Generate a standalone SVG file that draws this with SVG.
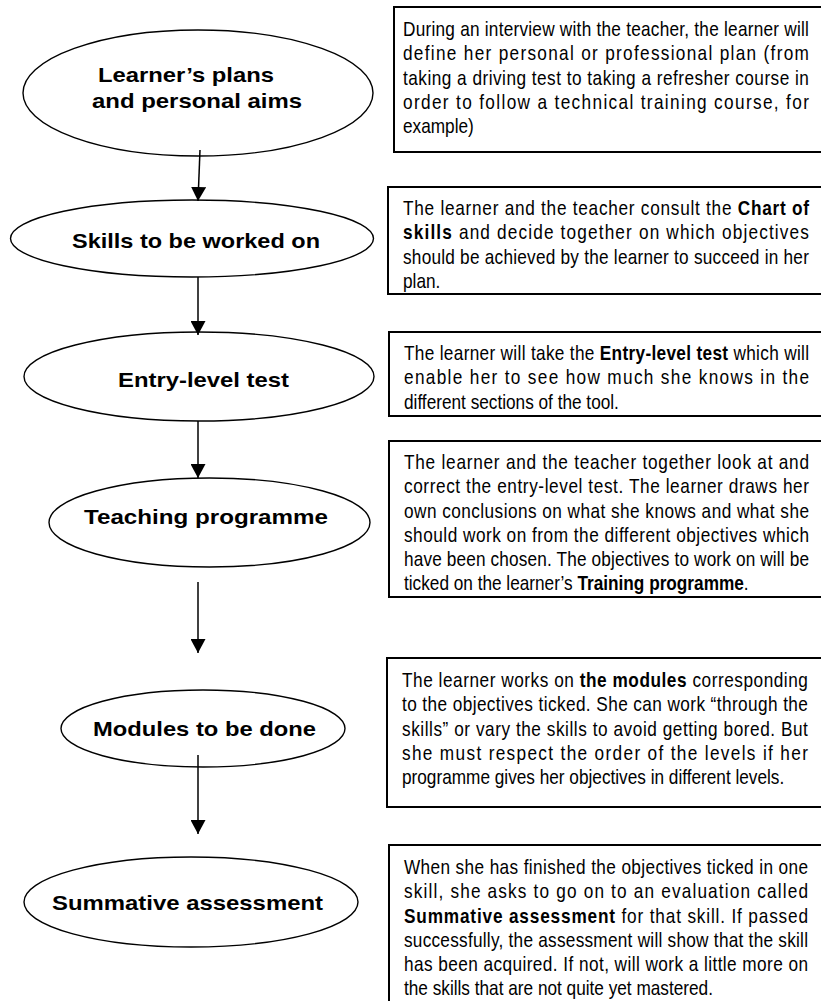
<svg xmlns="http://www.w3.org/2000/svg" width="821" height="1001" viewBox="0 0 821 1001">
<style>
.bg{fill:#fff}
.ell{fill:#fff;stroke:#000;stroke-width:1.4}
.box{fill:#fff;stroke:#000;stroke-width:2}
.lbl{font-family:"Liberation Sans",Arial,sans-serif;font-weight:bold;font-size:20.5px;fill:#000}
.txt{font-family:"Liberation Sans",Arial,sans-serif;font-size:21px;fill:#000}
.b{font-weight:bold}
.conn line{stroke:#000;stroke-width:1.5;marker-end:url(#ah)}
</style>
<defs>
<marker id="ah" markerUnits="userSpaceOnUse" markerWidth="15" markerHeight="15" refX="14" refY="7.5" orient="auto">
<path d="M0,0 L14,7.5 L0,15 z" fill="#000"/>
</marker>
</defs>
<rect class="bg" x="0" y="0" width="821" height="1001"/>

<g id="node-plans">
<ellipse class="ell" cx="198" cy="93" rx="175" ry="63"/>
<text class="lbl" x="98" y="82" textLength="176" lengthAdjust="spacingAndGlyphs">Learner’s plans</text>
<text class="lbl" x="92" y="108" textLength="210" lengthAdjust="spacingAndGlyphs">and personal aims</text>
</g>
<g id="node-skills">
<ellipse class="ell" cx="192" cy="238.5" rx="181.5" ry="38.5"/>
<text class="lbl" x="72" y="248" textLength="248" lengthAdjust="spacingAndGlyphs">Skills to be worked on</text>
</g>
<g id="node-entry">
<ellipse class="ell" cx="199" cy="376.5" rx="175" ry="44.5"/>
<text class="lbl" x="118" y="387" textLength="171" lengthAdjust="spacingAndGlyphs">Entry-level test</text>
</g>
<g id="node-teaching">
<ellipse class="ell" cx="209.5" cy="522.5" rx="160.5" ry="44.5"/>
<text class="lbl" x="84" y="524" textLength="244" lengthAdjust="spacingAndGlyphs">Teaching programme</text>
</g>
<g id="node-modules">
<ellipse class="ell" cx="203" cy="728.5" rx="142" ry="38.5"/>
<text class="lbl" x="93" y="736" textLength="223" lengthAdjust="spacingAndGlyphs">Modules to be done</text>
</g>
<g id="node-summative">
<ellipse class="ell" cx="191" cy="902" rx="167" ry="45"/>
<text class="lbl" x="52" y="910" textLength="271" lengthAdjust="spacingAndGlyphs">Summative assessment</text>
</g>

<g id="note-plans">
<rect class="box" x="394" y="7" width="440" height="145"/>
<g transform="translate(403,0) scale(0.82,1)">
<text class="txt" x="0" y="36" textLength="495" lengthAdjust="spacing">During an interview with the teacher, the learner will</text>
<text class="txt" x="0" y="60.3" textLength="495" lengthAdjust="spacing">define her personal or professional plan (from</text>
<text class="txt" x="0" y="84.6" textLength="495" lengthAdjust="spacing">taking a driving test to taking a refresher course in</text>
<text class="txt" x="0" y="108.9" textLength="495" lengthAdjust="spacing">order to follow a technical training course, for</text>
<text class="txt" x="0" y="133.2">example)</text>
</g>
</g>
<g id="note-skills">
<rect class="box" x="388" y="187" width="446" height="107"/>
<g transform="translate(403,0) scale(0.82,1)">
<text class="txt" x="0" y="215" textLength="495" lengthAdjust="spacing">The learner and the teacher consult the <tspan class="b">Chart of</tspan></text>
<text class="txt" x="0" y="239.3" textLength="495" lengthAdjust="spacing"><tspan class="b">skills</tspan> and decide together on which objectives</text>
<text class="txt" x="0" y="263.6" textLength="495" lengthAdjust="spacing">should be achieved by the learner to succeed in her</text>
<text class="txt" x="0" y="288">plan.</text>
</g>
</g>
<g id="note-entry">
<rect class="box" x="389" y="332" width="445" height="84"/>
<g transform="translate(404,0) scale(0.82,1)">
<text class="txt" x="0" y="360" textLength="493.9" lengthAdjust="spacing">The learner will take the <tspan class="b">Entry-level test</tspan> which will</text>
<text class="txt" x="0" y="384.3" textLength="493.9" lengthAdjust="spacing">enable her to see how much she knows in the</text>
<text class="txt" x="0" y="408.6">different sections of the tool.</text>
</g>
</g>
<g id="note-teaching">
<rect class="box" x="389" y="441" width="445" height="156"/>
<g transform="translate(404,0) scale(0.82,1)">
<text class="txt" x="0" y="469" textLength="493.9" lengthAdjust="spacing">The learner and the teacher together look at and</text>
<text class="txt" x="0" y="493.3" textLength="493.9" lengthAdjust="spacing">correct the entry-level test. The learner draws her</text>
<text class="txt" x="0" y="517.6" textLength="493.9" lengthAdjust="spacing">own conclusions on what she knows and what she</text>
<text class="txt" x="0" y="541.9" textLength="493.9" lengthAdjust="spacing">should work on from the different objectives which</text>
<text class="txt" x="0" y="566.2" textLength="493.9" lengthAdjust="spacing">have been chosen. The objectives to work on will be</text>
<text class="txt" x="0" y="590.5">ticked on the learner’s <tspan class="b">Training programme</tspan>.</text>
</g>
</g>
<g id="note-modules">
<rect class="box" x="387" y="658" width="447" height="149"/>
<g transform="translate(402,0) scale(0.82,1)">
<text class="txt" x="0" y="687" textLength="495" lengthAdjust="spacing">The learner works on <tspan class="b">the modules</tspan> corresponding</text>
<text class="txt" x="0" y="711.3" textLength="495" lengthAdjust="spacing">to the objectives ticked. She can work “through the</text>
<text class="txt" x="0" y="735.6" textLength="495" lengthAdjust="spacing">skills” or vary the skills to avoid getting bored. But</text>
<text class="txt" x="0" y="759.9" textLength="495" lengthAdjust="spacing">she must respect the order of the levels if her</text>
<text class="txt" x="0" y="784.2">programme gives her objectives in different levels.</text>
</g>
</g>
<g id="note-summative">
<rect class="box" x="389" y="845" width="445" height="200"/>
<g transform="translate(404,0) scale(0.82,1)">
<text class="txt" x="0" y="874" textLength="492.7" lengthAdjust="spacing">When she has finished the objectives ticked in one</text>
<text class="txt" x="0" y="898.3" textLength="492.7" lengthAdjust="spacing">skill, she asks to go on to an evaluation called</text>
<text class="txt" x="0" y="922.6" textLength="492.7" lengthAdjust="spacing"><tspan class="b">Summative assessment</tspan> for that skill. If passed</text>
<text class="txt" x="0" y="946.9" textLength="492.7" lengthAdjust="spacing">successfully, the assessment will show that the skill</text>
<text class="txt" x="0" y="971.2" textLength="492.7" lengthAdjust="spacing">has been acquired. If not, will work a little more on</text>
<text class="txt" x="0" y="995.5">the skills that are not quite yet mastered.</text>
</g>
</g>

<g id="connectors" class="conn">
<line x1="200" y1="150" x2="198" y2="201"/>
<line x1="198" y1="277" x2="198" y2="335"/>
<line x1="198" y1="421" x2="198" y2="478"/>
<line x1="198" y1="582" x2="198" y2="653"/>
<line x1="198" y1="755" x2="198" y2="834"/>
</g>
</svg>
